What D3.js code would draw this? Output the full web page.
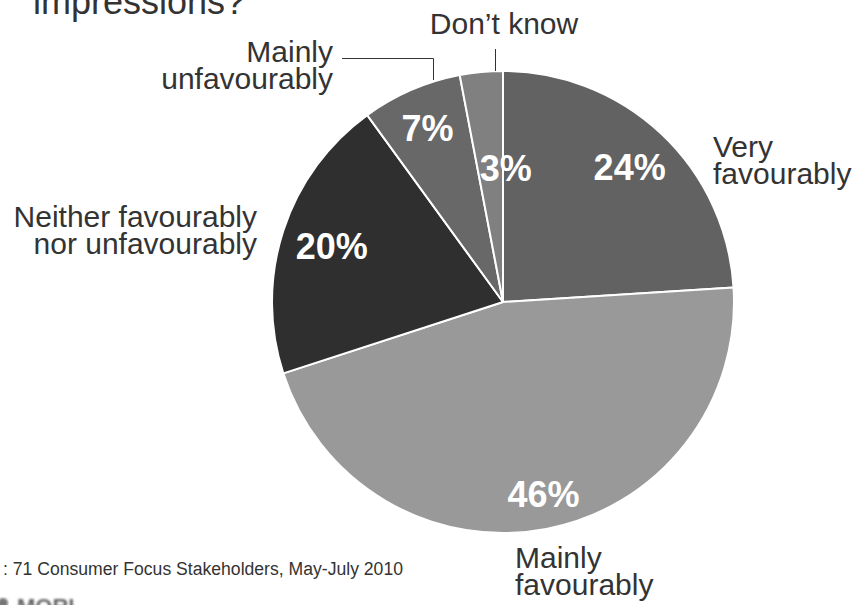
<!DOCTYPE html>
<html>
<head>
<meta charset="utf-8">
<script src="https://cdn.jsdelivr.net/npm/d3@7/dist/d3.min.js"></script>
<style>
  html, body { margin: 0; padding: 0; background: #fff; }
  svg { display: block; font-family: "Liberation Sans", Arial, Helvetica, sans-serif; }
</style>
</head>
<body>
<svg id="chart" width="855" height="605"></svg>
<script>
// Survey answers, clockwise from 12 o'clock
const categories = ["Very favourably", "Mainly favourably", "Neither favourably nor unfavourably", "Mainly unfavourably", "Don\u2019t know"];
const shares = [24, 46, 20, 7, 3];
const sliceColors = ["#626262", "#999999", "#2f2f2f", "#686868", "#808080"];
const categoryLines = [
  ["Very", "favourably"],
  ["Mainly", "favourably"],
  ["Neither favourably", "nor unfavourably"],
  ["Mainly", "unfavourably"],
  ["Don\u2019t know"]
];
const titleText = "impressions?";
const baseText = ": 71 Consumer Focus Stakeholders, May-July 2010";

const svg = d3.select("#chart");
const cx = 503, cy = 302, radius = 231;
const ink = "#333333";

// cut-off heading line at the very top
svg.append("text")
  .attr("x", 33).attr("y", 14)
  .attr("font-size", 36).attr("fill", ink)
  .text(titleText);

const pie = d3.pie().sort(null).value(d => d)(shares);
const arc = d3.arc().innerRadius(0).outerRadius(radius);

const g = svg.append("g").attr("transform", `translate(${cx},${cy})`);

g.selectAll("path.slice")
  .data(pie)
  .join("path")
  .attr("class", "slice")
  .attr("d", arc)
  .attr("fill", (d, i) => sliceColors[i])
  .attr("stroke", "#ffffff")
  .attr("stroke-width", 2)
  .attr("stroke-linejoin", "round");

// percentage labels inside the slices
const pctPlace = [
  { r: 185, shift: 0 },
  { r: 196, shift: -0.02 },
  { r: 180, shift: 0 },
  { r: 190, shift: 0 },
  { r: 134, shift: 0.115 }
];
g.selectAll("text.pct")
  .data(pie)
  .join("text")
  .attr("class", "pct")
  .each(function (d, i) {
    const p = pctPlace[i];
    const a = (d.startAngle + d.endAngle) / 2 + p.shift;
    const [x, y] = d3.arc().innerRadius(p.r).outerRadius(p.r).centroid({ startAngle: a, endAngle: a });
    d3.select(this).attr("x", x).attr("y", y + 13);
  })
  .attr("text-anchor", "middle")
  .attr("font-size", 36)
  .attr("font-weight", "bold")
  .attr("fill", "#ffffff")
  .text(d => d.data + "%");

// category labels around the pie
const labelPlace = [
  { x: 713, y: 157, anchor: "start" },
  { x: 515, y: 568, anchor: "start" },
  { x: 257, y: 227, anchor: "end" },
  { x: 333, y: 62, anchor: "end" },
  { x: 504, y: 34, anchor: "middle" }
];
categoryLines.forEach((lines, i) => {
  const p = labelPlace[i];
  const t = svg.append("text")
    .attr("x", p.x).attr("y", p.y)
    .attr("text-anchor", p.anchor)
    .attr("font-size", 30)
    .attr("fill", ink);
  lines.forEach((ln, j) => {
    t.append("tspan").attr("x", p.x).attr("dy", j === 0 ? 0 : 27).text(ln);
  });
});

// leader lines for the two thin slices
svg.append("path")
  .attr("d", "M342,58.5H433.5V80")
  .attr("fill", "none").attr("stroke", ink).attr("stroke-width", 1);
svg.append("path")
  .attr("d", "M495.5,49V71")
  .attr("fill", "none").attr("stroke", ink).attr("stroke-width", 1);

// base note and logo at the bottom
svg.append("text")
  .attr("x", 3).attr("y", 575)
  .attr("font-size", 17.6).attr("fill", ink)
  .text(baseText);

const defs = svg.append("defs");
defs.append("filter").attr("id", "soft")
  .append("feGaussianBlur").attr("stdDeviation", 0.8);
svg.append("circle")
  .attr("cx", 3).attr("cy", 603).attr("r", 5)
  .attr("fill", "#777").attr("filter", "url(#soft)");
svg.append("text")
  .attr("x", 17).attr("y", 614)
  .attr("font-size", 22).attr("font-weight", "bold")
  .attr("fill", "#666").attr("filter", "url(#soft)")
  .text("MORI");
</script>
</body>
</html>
